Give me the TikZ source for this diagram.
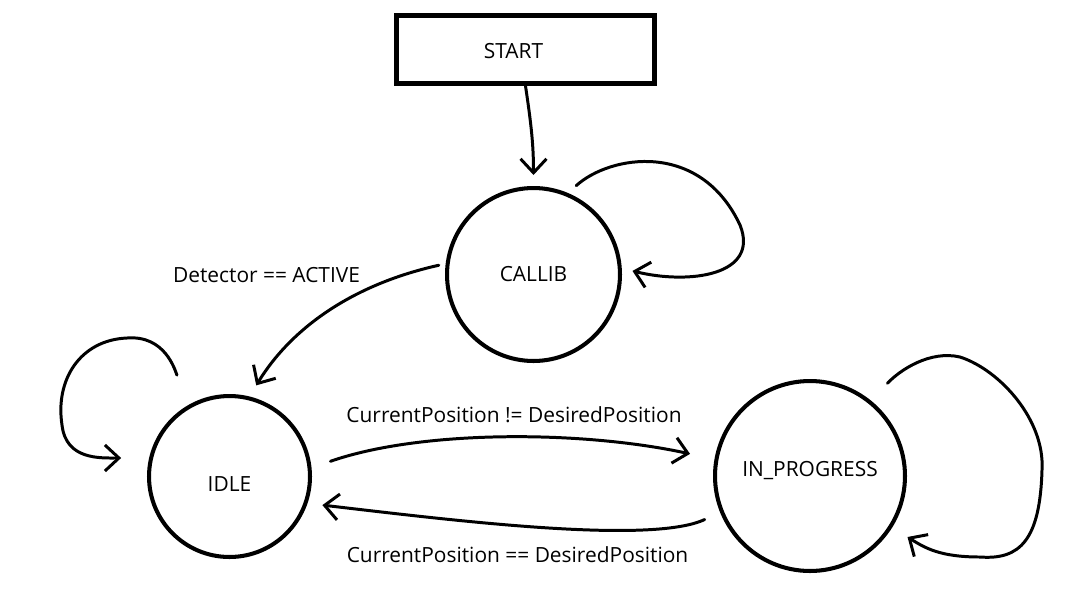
\documentclass[tikz,border=0pt]{standalone}
\usepackage{fontspec}
\setmainfont{Open Sans}
\usetikzlibrary{arrows.meta}

\begin{document}
\begin{tikzpicture}[x=0.02cm, y=-0.02cm, font=\fontsize{11.9}{14}\selectfont,
  statenode/.style={circle, draw, line width=2.3pt, inner sep=0pt},
  startbox/.style={rectangle, draw, line width=2.8pt, minimum width=5.16cm, minimum height=1.36cm},
  edge/.style={line width=1.7pt, line cap=round, line join=round,
    -{Straight Barb[length=0.28cm, width=0.52cm]}}]

% Whole sheet (pixel grid of the sketch, y grows downwards):
\useasboundingbox (0,0) rectangle (1075,613);

%--- States ---
\node[startbox, text height=0.36cm, text depth=0pt] (start) at (525.5,49.5) {\hspace*{-0.48cm}START};
\node[statenode, minimum size=3.46cm] (callib) at (533.5,274.5) {CALLIB};
\node[statenode, minimum size=3.22cm, text height=0.58cm, text depth=0pt] (idle) at (229.5,476.5) {IDLE};
\node[statenode, minimum size=3.80cm, text height=0.3cm, text depth=0.28cm] (inprog) at (810,476) {IN\_PROGRESS};

%--- Transition labels ---
\node (lbldetect) at (266.5,275) {Detector == ACTIVE};
\node (lblgo) at (514,415) {CurrentPosition != DesiredPosition};
\node (lbldone) at (517.5,555) {CurrentPosition == DesiredPosition};

%--- START -> CALLIB
\draw[edge, shorten >=0.22cm] (start.south) .. controls +(6,40) and +(0,-40) .. (callib.north);

%--- CALLIB self loop
\draw[edge, shorten <=0.22cm, shorten >=0.22cm] (callib.67)
  .. controls (610,155) and (700,140) .. (740,225)
  .. controls (760,275) and (690,285) .. (callib.4);

%--- CALLIB -> IDLE (Detector == ACTIVE)
\draw[edge, shorten <=0.14cm, shorten >=0.26cm] (callib.173)
  .. controls (350,285) and (290,330) .. (idle.76);

%--- IDLE self loop
\draw[edge, shorten <=0.64cm, shorten >=0.56cm] (idle.120)
  .. controls (175,370) and (165,335) .. (127,338)
  .. controls (80,340) and (55,380) .. (62,425)
  .. controls (66,460) and (100,458) .. (idle.167);

%--- IDLE -> IN_PROGRESS
\draw[edge, shorten <=0.40cm, shorten >=0.50cm] (idle.6)
  .. controls (420,430) and (580,430) .. (inprog.170);

%--- IN_PROGRESS -> IDLE
\draw[edge, shorten <=0.34cm, shorten >=0.30cm] (inprog.202)
  .. controls (650,545) and (450,520) .. (idle.-19);

%--- IN_PROGRESS self loop
\draw[edge, shorten <=0.48cm, shorten >=0.36cm] (inprog.51)
  .. controls (900,370) and (930,350) .. (960,357)
  .. controls (1000,370) and (1045,420) .. (1042,470)
  .. controls (1040,540) and (1020,560) .. (980,557)
  .. controls (940,557) and (925,548) .. (inprog.-32);

\end{tikzpicture}
\end{document}
